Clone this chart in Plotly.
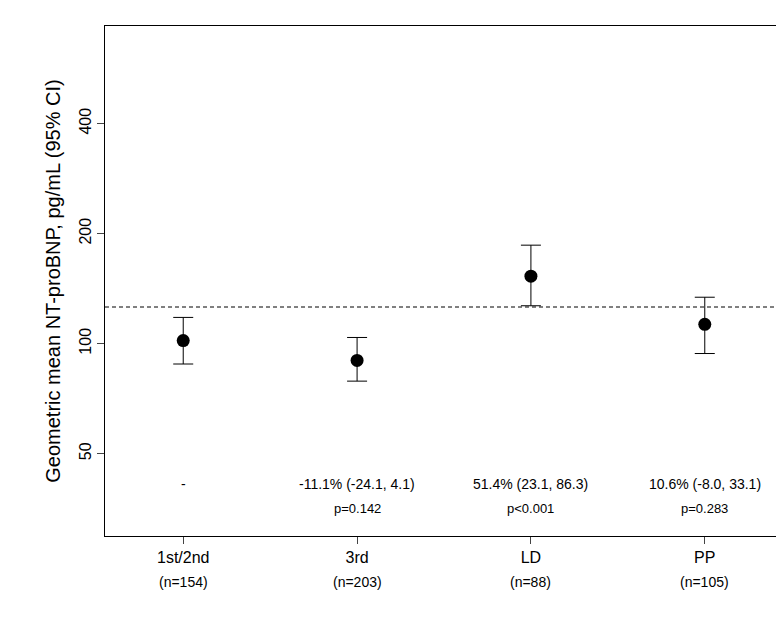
import plotly.graph_objects as go

cats = ["1st/2nd", "3rd", "LD", "PP"]
ns = ["(n=154)", "(n=203)", "(n=88)", "(n=105)"]
gm = [102, 90, 153, 113]
lo = [88, 79, 127, 94]
hi = [118, 104, 186, 134]
ref = 126
diff = ["-", "-11.1% (-24.1, 4.1)", "51.4% (23.1, 86.3)", "10.6% (-8.0, 33.1)"]
pv = ["", "p=0.142", "p<0.001", "p=0.283"]

x = list(range(len(cats)))
fig = go.Figure(go.Scatter(
    x=x, y=gm, mode="markers",
    marker=dict(color="black", size=13),
    error_y=dict(type="data", symmetric=False,
                 array=[h - g for h, g in zip(hi, gm)],
                 arrayminus=[g - l for g, l in zip(gm, lo)],
                 color="black", thickness=1, width=10)))
fig.add_shape(type="line", xref="paper", x0=0, x1=1, y0=ref, y1=ref,
              line=dict(color="black", width=1, dash="4px,3px"))
for i in x:
    fig.add_annotation(x=i, y=0.082, yref="paper", text=diff[i], showarrow=False,
                       font=dict(size=14))
    fig.add_annotation(x=i, y=0.036, yref="paper", text=pv[i], showarrow=False,
                       font=dict(size=13))
    fig.add_annotation(x=i, y=-0.11, yref="paper", text=ns[i], showarrow=False,
                       font=dict(size=14))
fig.update_layout(
    width=784, height=631, plot_bgcolor="white", paper_bgcolor="white",
    margin=dict(l=97, r=9, t=18, b=103, autoexpand=False), showlegend=False,
    font=dict(family="Liberation Sans, Arial", color="black", size=16),
    xaxis=dict(range=[-0.45, 3.45], tickvals=x, ticktext=cats, showgrid=False,
               zeroline=False, showline=True, mirror=True, linecolor="black",
               ticks="outside", ticklen=7, tickfont=dict(size=16), automargin=False),
    yaxis=dict(type="log", range=[1.474, 2.869], tickvals=[50, 100, 200, 400],
               ticktext=["50", "100", "200", "400"], showgrid=False, zeroline=False,
               showline=True, mirror=True, linecolor="black", ticks="outside",
               ticklen=7, tickangle=-90, tickfont=dict(size=16), automargin=False,
               title=dict(text="Geometric mean NT-proBNP, pg/mL (95% CI)",
                          font=dict(size=20), standoff=10)),
)
fig.write_html("out.html")
